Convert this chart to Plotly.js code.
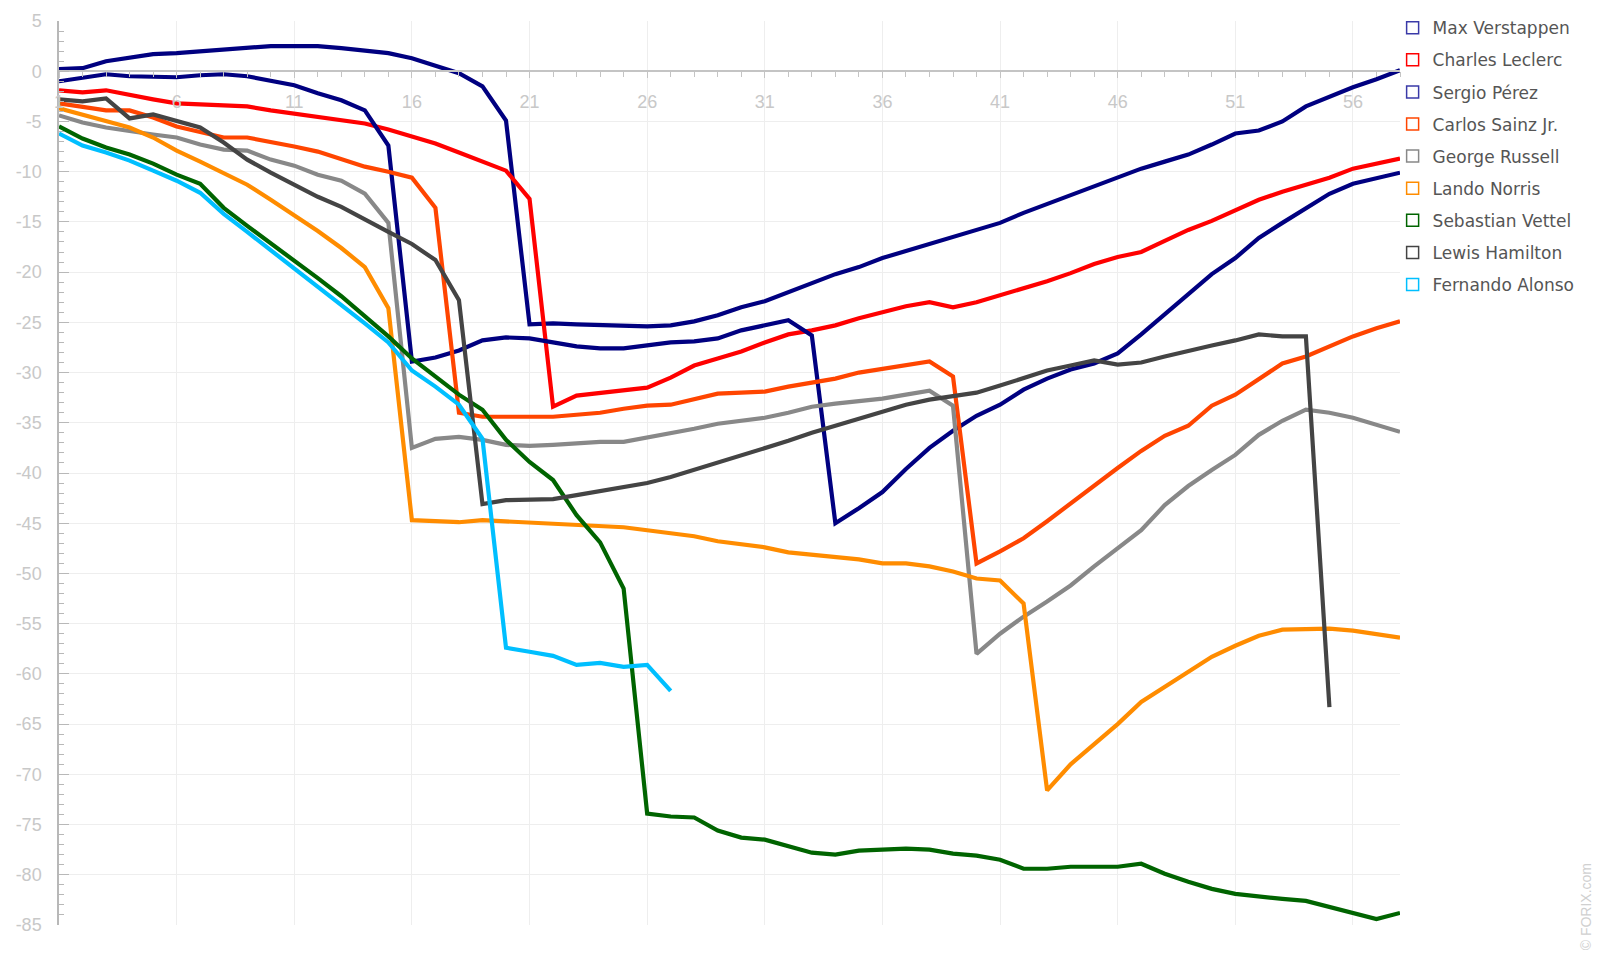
<!DOCTYPE html>
<html>
<head>
<meta charset="utf-8">
<script src="https://cdn.plot.ly/plotly-3.0.1.min.js"></script>
<style>html,body{margin:0;padding:0;background:#fff;}#chart{width:1597px;height:965px;}</style>
</head>
<body>
<div id="chart"></div>
<script>
const laps = [1,2,3,4,5,6,7,8,9,10,11,12,13,14,15,16,17,18,19,20,21,22,23,24,25,26,27,28,29,30,31,32,33,34,35,36,37,38,39,40,41,42,43,44,45,46,47,48,49,50,51,52,53,54,55,56,57,58];

const drivers = ["Max Verstappen","Charles Leclerc","Sergio Pérez","Carlos Sainz Jr.","George Russell","Lando Norris","Sebastian Vettel","Lewis Hamilton","Fernando Alonso"];
const colors = ["#000080","#ff0000","#000080","#ff4500","#888888","#ff8c00","#006400","#444444","#00bfff"];

const verstappen = [0.2,0.3,1.0,1.4,1.7,1.8,2.0,2.1,2.3,2.5,2.5,2.5,2.3,2.1,1.8,1.3,0.5,-0.2,-1.5,-4.9,
  -25.2,-25.1,-25.2,-25.3,-25.4,-25.4,-25.3,-24.9,-24.3,-23.5,-22.9,-22.0,-21.1,-20.2,-19.5,-18.6,-17.9,-17.2,-16.5,-15.8,
  -15.1,-14.1,-13.2,-12.4,-11.4,-10.5,-9.7,-9.0,-8.3,-7.3,-6.2,-5.9,-5.0,-3.5,-2.5,-1.6,-0.8,0.1];
const leclerc = [-1.9,-2.1,-1.9,-2.4,-2.8,-3.2,-3.3,-3.4,-3.5,-3.9,-4.2,-4.5,-4.8,-5.2,-5.8,-6.5,-7.2,-8.1,-9.0,-9.9,
  -12.7,-33.4,-32.3,-32.0,-31.7,-31.5,-30.5,-29.3,-28.6,-27.9,-27.0,-26.2,-25.8,-25.3,-24.6,-24.0,-23.4,-23.0,-23.5,-23.0,
  -22.3,-21.7,-20.9,-20.1,-19.2,-18.5,-18.0,-16.9,-15.8,-14.9,-13.9,-12.8,-12.0,-11.3,-10.6,-9.7,-9.2,-8.7];
const perez = [-1.0,-0.7,-0.3,-0.5,-0.6,-0.6,-0.4,-0.3,-0.5,-0.9,-1.4,-2.2,-2.9,-3.9,-7.4,-28.9,-28.5,-27.8,-26.8,-26.5,
  -26.6,-27.0,-27.4,-27.6,-27.6,-27.3,-27.0,-26.9,-26.6,-25.8,-25.3,-24.8,-26.3,-45.0,-43.5,-41.9,-39.6,-37.5,-35.8,-34.3,
  -33.2,-31.7,-30.6,-29.7,-29.1,-28.1,-26.2,-24.2,-22.2,-20.2,-18.6,-16.6,-15.1,-13.6,-12.2,-11.2,-10.6,-10.1];
const sainz = [-3.2,-3.6,-3.9,-3.9,-4.6,-5.5,-6.1,-6.6,-6.6,-7.0,-7.5,-8.0,-8.8,-9.5,-10.0,-10.6,-13.6,-34.0,-34.4,-34.4,
  -34.3,-34.4,-34.2,-34.0,-33.6,-33.3,-33.2,-32.7,-32.1,-32.0,-31.9,-31.4,-31.0,-30.6,-30.0,-29.6,-29.2,-28.9,-30.4,-49.0,
  -47.8,-46.5,-44.8,-43.0,-41.2,-39.5,-37.8,-36.3,-35.3,-33.3,-32.2,-30.6,-29.1,-28.4,-27.4,-26.4,-25.6,-24.9];
const russell = [-4.4,-5.1,-5.6,-6.0,-6.3,-6.6,-7.3,-7.8,-7.9,-8.8,-9.4,-10.3,-10.9,-12.2,-15.1,-37.5,-36.6,-36.4,-36.7,-37.2,
  -37.3,-37.2,-37.0,-36.9,-36.9,-36.5,-36.0,-35.6,-35.1,-34.8,-34.5,-34.0,-33.4,-33.1,-32.9,-32.6,-32.2,-31.8,-33.3,-58.0,
  -56.0,-54.3,-52.8,-51.2,-49.3,-47.5,-45.7,-43.2,-41.3,-39.7,-38.2,-36.2,-34.8,-33.7,-34.0,-34.5,-35.2,-35.9];
const norris = [-3.7,-4.3,-4.9,-5.6,-6.6,-7.9,-9.0,-10.1,-11.3,-12.8,-14.3,-15.9,-17.6,-19.5,-23.6,-44.7,-44.8,-44.9,-44.7,-44.8,
  -44.9,-45.1,-45.1,-45.2,-45.4,-45.7,-46.0,-46.3,-46.8,-47.1,-47.4,-47.9,-48.1,-48.3,-48.6,-49.0,-49.0,-49.3,-49.8,-50.5,
  -50.7,-53.0,-71.6,-69.0,-67.0,-65.0,-62.8,-61.3,-59.7,-58.3,-57.2,-56.2,-55.6,-55.5,-55.5,-55.7,-56.0,-56.4];
const vettel = [-5.5,-6.7,-7.6,-8.3,-9.2,-10.3,-11.2,-13.6,-15.4,-17.1,-18.9,-20.6,-22.4,-24.4,-26.4,-28.6,-30.4,-32.2,-33.7,-36.7,
  -38.9,-40.7,-44.2,-46.9,-51.5,-73.9,-74.2,-74.3,-75.6,-76.3,-76.5,-77.2,-77.8,-78.0,-77.6,-77.5,-77.4,-77.5,-77.9,-78.1,
  -78.5,-79.4,-79.4,-79.2,-79.2,-79.2,-78.9,-79.9,-80.7,-81.4,-81.9,-82.2,-82.4,-82.6,-83.2,-83.8,-84.4,-83.8];
const hamilton = [-2.8,-3.0,-2.7,-4.7,-4.3,-4.9,-5.6,-7.1,-8.8,-10.1,-11.3,-12.5,-13.5,-14.8,-16.0,-17.2,-18.8,-22.8,-43.1,-42.7,
  -42.7,-42.6,-42.2,-41.8,-41.4,-41.0,-40.4,-39.7,-39.0,-38.3,-37.6,-36.8,-36.0,-35.3,-34.5,-33.8,-33.2,-32.7,-32.4,-32.0,
  -31.3,-30.5,-29.8,-29.3,-28.8,-29.2,-29.0,-28.4,-27.8,-27.3,-26.8,-26.2,-26.4,-26.4,-63.3,null,null,null];
const alonso = [-6.2,-7.4,-8.1,-8.9,-9.9,-10.9,-12.1,-14.2,-16.0,-17.8,-19.6,-21.4,-23.3,-25.1,-27.0,-29.8,-31.4,-33.2,-36.6,-57.4,
  -57.8,-58.2,-59.1,-58.9,-59.3,-59.1,-61.7,null,null,null,null,null,null,null,null,null,null,null,null,null,
  null,null,null,null,null,null,null,null,null,null,null,null,null,null,null,null,null,null];

const yTickVals = [5,0,-5,-10,-15,-20,-25,-30,-35,-40,-45,-50,-55,-60,-65,-70,-75,-80,-85];
const yTickText = ["5","0","-5","-10","-15","-20","-25","-30","-35","-40","-45","-50","-55","-60","-65","-70","-75","-80","-85"];
const xTickVals = [1,6,11,16,21,26,31,36,41,46,51,56];
const xTickText = ["1","6","11","16","21","26","31","36","41","46","51","56"];

const series = [verstappen, leclerc, perez, sainz, russell, norris, vettel, hamilton, alonso];

const traces = [];
series.forEach((vals, i) => {
  traces.push({
    x: laps, y: vals, type: 'scatter', mode: 'lines', name: drivers[i],
    line: {color: colors[i], width: 4.2}, connectgaps: false,
    showlegend: false, legendgroup: 'g' + i, hoverinfo: 'x+y+name'
  });
});
series.forEach((vals, i) => {
  traces.push({
    x: [null], y: [null], type: 'scatter', mode: 'markers', name: drivers[i],
    marker: {symbol: 'square-open', size: 12, color: colors[i] === '#000080' ? '#3a3aa8' : colors[i], line: {width: 1.5}},
    showlegend: true, legendgroup: 'g' + i, hoverinfo: 'skip'
  });
});

const tickFont = {family: 'Liberation Sans, Arial, sans-serif', size: 18, color: '#c8c8c8'};

const layout = {
  width: 1597, height: 965,
  margin: {l: 59, r: 197, t: 21, b: 40, pad: 0, autoexpand: false},
  paper_bgcolor: '#ffffff', plot_bgcolor: '#ffffff',
  showlegend: true,
  xaxis: {
    range: [1, 58], tickmode: 'array', tickvals: xTickVals, ticktext: xTickText,
    showgrid: true, gridcolor: '#eeeeee', gridwidth: 1,
    zeroline: false, showline: true, linecolor: '#c4c4c4', linewidth: 1.5,
    ticks: 'outside', ticklen: 6, tickcolor: '#c4c4c4', tickwidth: 1,
    tickfont: tickFont, ticklabelstandoff: 8,
    anchor: 'free', position: 85 / 90,
    minor: {dtick: 1, tick0: 1, ticks: 'outside', ticklen: 5, tickcolor: '#c4c4c4', showgrid: false},
    fixedrange: true, automargin: false
  },
  yaxis: {
    range: [-85, 5], tickmode: 'array', tickvals: yTickVals, ticktext: yTickText,
    showgrid: true, gridcolor: '#eeeeee', gridwidth: 1,
    zeroline: false, showline: true, linecolor: '#b8b8b8', linewidth: 1.5,
    ticks: 'inside', ticklen: 10, tickcolor: '#b8b8b8', tickwidth: 1,
    tickfont: tickFont, ticklabelstandoff: 12,
    minor: {dtick: 1, tick0: 0, ticks: 'inside', ticklen: 5, tickcolor: '#b8b8b8', showgrid: false},
    fixedrange: true, automargin: false
  },
  legend: {
    x: 0.9945, xanchor: 'left', y: 1.012, yanchor: 'top',
    font: {family: 'DejaVu Sans, Verdana, sans-serif', size: 17, color: '#555555'},
    traceorder: 'grouped', tracegroupgap: 7,
    bgcolor: 'rgba(0,0,0,0)', borderwidth: 0
  },
  annotations: [{
    text: '© FORIX.com', xref: 'paper', yref: 'paper',
    x: 1.139, y: 0.02, xanchor: 'center', yanchor: 'middle',
    textangle: -90, showarrow: false,
    font: {family: 'Liberation Sans, Arial, sans-serif', size: 14, color: '#d0d0d0'}
  }]
};

Plotly.newPlot('chart', traces, layout, {displayModeBar: false});
</script>
</body>
</html>
